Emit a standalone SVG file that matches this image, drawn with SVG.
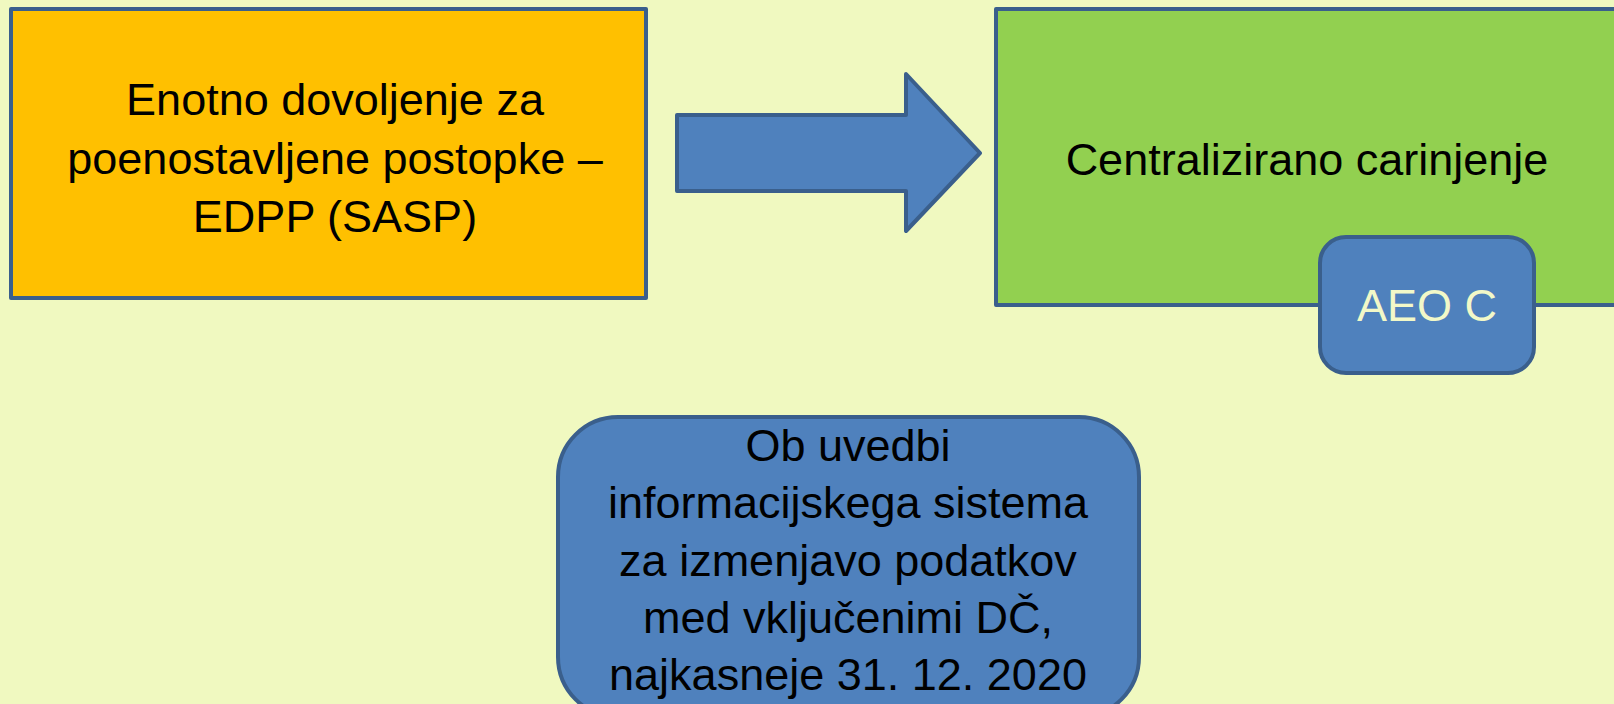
<svg xmlns="http://www.w3.org/2000/svg" width="1614" height="704" viewBox="0 0 1614 704">
<style>
.bx{stroke:#3A5F8C;stroke-width:4;stroke-linejoin:round}
.t{font-family:"Liberation Sans",Arial,sans-serif;font-size:45px;text-anchor:middle;fill:#000}
.w{fill:#F2F8C8}
</style>
<rect width="1614" height="704" fill="#F0F9C0"/>
<g id="edpp">
<rect class="bx" x="11" y="9" width="635" height="289" fill="#FFC000"/>
<text class="t" x="335" y="115">Enotno dovoljenje za</text>
<text class="t" x="335" y="174">poenostavljene postopke –</text>
<text class="t" x="335" y="232">EDPP (SASP)</text>
</g>
<g id="connectors">
<polygon class="bx" points="677,115 906,115 906,74 980,153 906,231 906,191 677,191" fill="#4F81BD"/>
</g>
<g id="centralizirano">
<rect class="bx" x="996" y="9" width="640" height="296" fill="#92D050"/>
<text class="t" x="1307" y="175">Centralizirano carinjenje</text>
</g>
<g id="aeo">
<rect class="bx" x="1320" y="237" width="214" height="136" rx="26" fill="#4F81BD"/>
<text class="t w" x="1427" y="321">AEO C</text>
</g>
<g id="info">
<rect class="bx" x="558" y="417" width="581" height="300" rx="60" fill="#4F81BD"/>
<text class="t" x="848" y="461">Ob uvedbi</text>
<text class="t" x="848" y="518">informacijskega sistema</text>
<text class="t" x="848" y="576">za izmenjavo podatkov</text>
<text class="t" x="848" y="633">med vključenimi DČ,</text>
<text class="t" x="848" y="690">najkasneje 31. 12. 2020</text>
</g>
</svg>
